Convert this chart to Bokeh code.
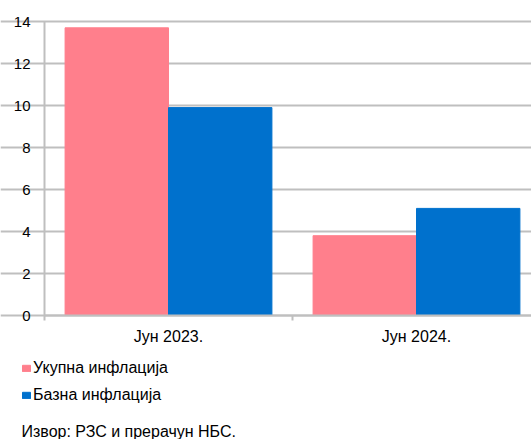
from bokeh.plotting import figure
from bokeh.models import (ColumnDataSource, FixedTicker, Legend, LegendItem,
                          Label, Range1d)
from bokeh.transform import dodge
from bokeh.embed import file_html
from bokeh.resources import INLINE

# Inflation rates, %
categories = ["Јун 2023.", "Јун 2024."]
headline = [13.7, 3.8]   # Укупна инфлација
core = [9.9, 5.1]        # Базна инфлација
y_ticks = [0, 2, 4, 6, 8, 10, 12, 14]
series_names = ["Укупна инфлација", "Базна инфлација"]
source_note = "Извор: РЗС и прерачун НБС."

PINK = "#FF7F8C"
BLUE = "#0071CD"
GRID = "#BFBFBF"
FONT = "Liberation Sans"
W, H = 531, 439

centers = [i + 0.5 for i in range(len(categories))]
src = ColumnDataSource(dict(x=centers, headline=headline, core=core))

# The frame fills the whole canvas; axes are pinned at x=0 / y=0 so that the
# legend and the source note can sit below the chart inside the same frame.
px_per_cat = 248.0
px_per_unit = 21.0
x_range = Range1d(-44 / px_per_cat, (W - 44) / px_per_cat)
y_range = Range1d(-(H - 315) / px_per_unit, 14 + 21 / px_per_unit)

p = figure(width=W, height=H, output_backend="svg", toolbar_location=None,
           x_range=x_range, y_range=y_range,
           min_border=0, min_border_left=0, min_border_right=0,
           min_border_top=0, min_border_bottom=0)
p.outline_line_color = None

bw = 0.417
r1 = p.vbar(x=dodge("x", -bw / 2), top="headline", width=bw, source=src,
            fill_color=PINK, line_color=PINK)
r2 = p.vbar(x=dodge("x", bw / 2), top="core", width=bw, source=src,
            fill_color=BLUE, line_color=BLUE)

p.xgrid.grid_line_color = None
p.ygrid.ticker = FixedTicker(ticks=y_ticks)
p.ygrid.grid_line_color = GRID
p.ygrid.grid_line_width = 2
p.ygrid.bounds = (0, x_range.end)

yax = p.yaxis[0]
yax.fixed_location = 0
yax.bounds = (0, 14)
yax.ticker = FixedTicker(ticks=y_ticks)
yax.axis_line_color = GRID
yax.axis_line_width = 2
yax.major_tick_line_color = None
yax.minor_tick_line_color = None
yax.major_tick_out = 0
yax.major_label_standoff = 14
yax.major_label_text_font = FONT
yax.major_label_text_font_size = "15px"
yax.major_label_text_color = "black"

# category labels at the centres, short ticks on the category boundaries
xax = p.xaxis[0]
xax.fixed_location = 0
xax.bounds = (0, 2)
xax.ticker = FixedTicker(ticks=centers, minor_ticks=[0, 1, 2])
xax.major_label_overrides = {c: lab for c, lab in zip(centers, categories)}
xax.axis_line_color = GRID
xax.axis_line_width = 2
xax.major_tick_line_color = None
xax.major_tick_out = 0
xax.minor_tick_line_color = GRID
xax.minor_tick_line_width = 2
xax.minor_tick_in = 0
xax.minor_tick_out = 5
xax.major_label_standoff = 7
xax.major_label_text_font = FONT
xax.major_label_text_font_size = "16px"
xax.major_label_text_color = "black"

legend = Legend(items=[LegendItem(label=series_names[0], renderers=[r1]),
                       LegendItem(label=series_names[1], renderers=[r2])],
                location=(21, 35), orientation="vertical",
                glyph_width=10, glyph_height=8, label_height=16,
                label_standoff=2, spacing=9, padding=0, margin=0,
                border_line_color=None, background_fill_alpha=0,
                label_text_font=FONT, label_text_font_size="16px",
                label_text_color="black")
p.add_layout(legend, "center")

note = Label(x=21, y=8, x_units="screen", y_units="screen",
             text=source_note, text_font=FONT, text_font_size="16px",
             text_color="black", text_baseline="middle", text_align="left")
p.add_layout(note)

open("out.html", "w").write(file_html(p, INLINE))
